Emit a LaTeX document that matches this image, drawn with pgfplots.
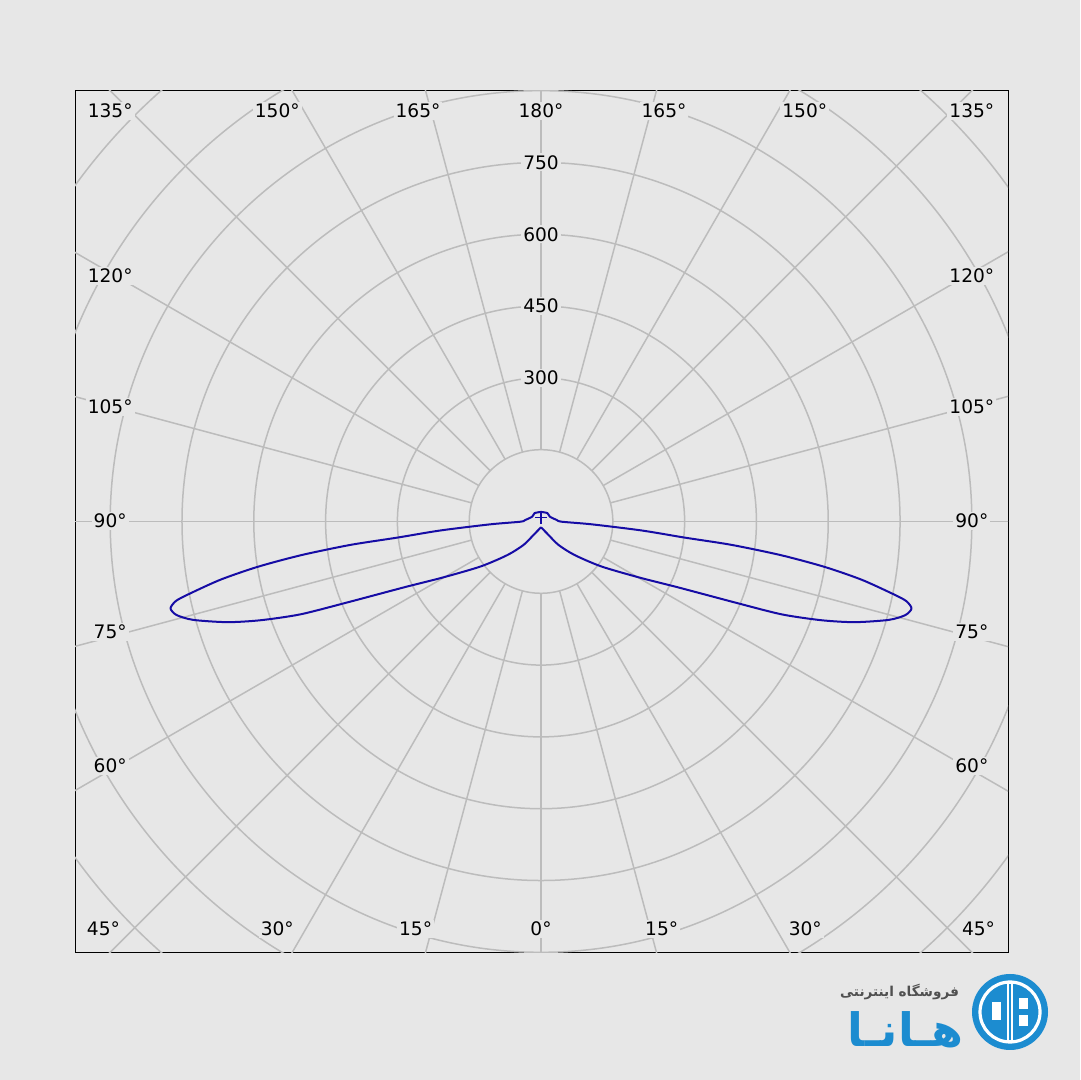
\documentclass[border=0pt]{standalone}
\usepackage{fontspec}
\setmainfont{DejaVu Sans}
\newfontfamily\arabicfont[Script=Arabic]{DejaVu Sans}
\TeXXeTstate=1
\usepackage{pgfplots}
\usepackage{pgfplotstable}
\pgfplotsset{compat=1.18}

\definecolor{bg}{RGB}{231,231,231}
\definecolor{gridcol}{RGB}{188,188,188}
\definecolor{curvecol}{RGB}{22,12,165}
\definecolor{logoblue}{RGB}{28,140,208}
\definecolor{logogray}{RGB}{80,80,80}

\tikzset{
  gridline/.style={gridcol, line width=0.75pt},
  lab/.style={fill=bg, inner sep=1pt, font=\fontsize{9.3}{11}\selectfont},
}

% gamma (deg from nadir), intensity (cd)
\pgfplotstableread{
g I
0 12
29.0 32
36.7 61
45.0 99
53.4 158
60.6 241
64.2 314
67.4 443
68.9 539
70.6 621
72.2 688
74.2 755
75.6 786
76.8 795
77.7 781
78.3 754
79.7 681
80.9 600
82.0 507
83.0 401
83.6 302
84.9 211
86.8 106
89.4 43
95.5 33
118.6 21
142.6 22
180 20
}\lobe

\begin{document}
\begin{tikzpicture}
\fill[bg] (0,0) rectangle (540pt,540pt);
\useasboundingbox (0,0) rectangle (540pt,540pt);
\begin{axis}[
  at={(37.5pt,63.5pt)}, anchor=south west,
  scale only axis, width=466.5pt, height=431pt,
  xmin=-973.5, xmax=975.5, ymin=-901.4, ymax=899.3,
  xtick=\empty, ytick=\empty,
  axis line style={black, line width=0.5pt},
  axis background/.style={fill=bg},
]
  % grid circles
  \pgfplotsinvokeforeach{150,300,...,1200}{
    \draw[gridline] (axis cs:0,0) circle[radius=#1];
  }
  % radial lines every 15 degrees
  \pgfplotsinvokeforeach{0,15,...,345}{
    \draw[gridline] (axis cs:{150*sin(#1)},{-150*cos(#1)})
      -- (axis cs:{1500*sin(#1)},{-1500*cos(#1)});
  }
  % angle labels
  \node[lab] at (axis cs:-900,857.5) {135°};
  \node[lab] at (axis cs:-551,857.5) {150°};
  \node[lab] at (axis cs:-257,857.5) {165°};
  \node[lab] at (axis cs:0,857.5) {180°};
  \node[lab] at (axis cs:257,857.5) {165°};
  \node[lab] at (axis cs:551,857.5) {150°};
  \node[lab] at (axis cs:900,857.5) {135°};
  \node[lab] at (axis cs:-900,513) {120°};
  \node[lab] at (axis cs:900,513) {120°};
  \node[lab] at (axis cs:-900,239) {105°};
  \node[lab] at (axis cs:900,239) {105°};
  \node[lab] at (axis cs:-900,1) {90°};
  \node[lab] at (axis cs:900,1) {90°};
  \node[lab] at (axis cs:-900,-231) {75°};
  \node[lab] at (axis cs:900,-231) {75°};
  \node[lab] at (axis cs:-900,-511) {60°};
  \node[lab] at (axis cs:900,-511) {60°};
  \node[lab] at (axis cs:-914,-851) {45°};
  \node[lab] at (axis cs:-551,-851) {30°};
  \node[lab] at (axis cs:-262,-851) {15°};
  \node[lab] at (axis cs:0,-851) {0°};
  \node[lab] at (axis cs:252,-851) {15°};
  \node[lab] at (axis cs:552,-851) {30°};
  \node[lab] at (axis cs:914,-851) {45°};
  % intensity labels
  \node[lab] at (axis cs:0,300) {300};
  \node[lab] at (axis cs:0,450) {450};
  \node[lab] at (axis cs:0,600) {600};
  \node[lab] at (axis cs:0,750) {750};
  % luminous intensity curve, both halves
  \addplot[curvecol, line width=1pt, line join=round, smooth, tension=0.45]
    table[x expr={-\thisrow{I}*sin(\thisrow{g})}, y expr={-\thisrow{I}*cos(\thisrow{g})}] {\lobe};
  \addplot[curvecol, line width=1pt, line join=round, smooth, tension=0.45]
    table[x expr={\thisrow{I}*sin(\thisrow{g})}, y expr={-\thisrow{I}*cos(\thisrow{g})}] {\lobe};
  \addplot[curvecol, only marks, mark=+, mark size=3pt, mark options={line width=0.7pt}]
    coordinates {(0,8)};
\end{axis}
% logo
\node[anchor=east, text=logogray, font=\arabicfont\bfseries\fontsize{6.8}{8}\selectfont] at (483pt,44pt) {\beginR فروشگاه اینترنتی\endR};
\node[anchor=east, text=logoblue, font=\arabicfont\bfseries\fontsize{23}{26}\selectfont] at (485pt,25pt) {\beginR هـانـا\endR};
\begin{scope}[shift={(505pt,34pt)}]
  \fill[logoblue] (0,0) circle (19pt);
  \draw[white, line width=1.6pt] (0,0) circle (15pt);
  \fill[white] (-1.6pt,-15pt) rectangle (1.6pt,15pt);
  \fill[logoblue] (-0.4pt,-14pt) rectangle (0.4pt,14pt);
  \fill[white] (-9pt,-4pt) rectangle (-4.5pt,5pt);
  \fill[white] (4.5pt,1.5pt) rectangle (9pt,7pt);
  \fill[white] (4.5pt,-7pt) rectangle (9pt,-1.5pt);
\end{scope}
\end{tikzpicture}
\end{document}
